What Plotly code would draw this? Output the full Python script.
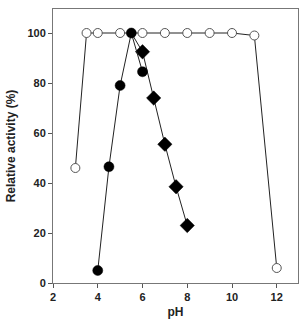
import plotly.graph_objects as go

ph_open = [3, 3.5, 4, 5, 6, 7, 8, 9, 10, 11, 12]
act_open = [46, 100, 100, 100, 100, 100, 100, 100, 100, 99, 6]
ph_fill = [4, 4.5, 5, 5.5, 6]
act_fill = [5, 46.5, 79, 100, 84.5]
ph_diam = [5.5, 6, 6.5, 7, 7.5, 8]
act_diam = [100, 92.5, 74, 55.5, 38.5, 23]

fig = go.Figure()
fig.add_trace(go.Scatter(x=ph_open, y=act_open, mode="lines+markers",
    line=dict(color="#222", width=1),
    marker=dict(symbol="circle", size=9, color="white", line=dict(color="#555", width=1))))
fig.add_trace(go.Scatter(x=ph_diam, y=act_diam, mode="lines+markers",
    line=dict(color="#222", width=1),
    marker=dict(symbol="diamond", size=[0, 11, 11, 11, 11, 11], color="#000000",
                opacity=1, line=dict(color="#000000", width=0.5))))
fig.add_trace(go.Scatter(x=ph_fill, y=act_fill, mode="lines+markers",
    line=dict(color="#222", width=1),
    marker=dict(symbol="circle", size=10, color="#000000", line=dict(color="#000000", width=0.5))))

fig.update_layout(
    width=302, height=320, showlegend=False,
    margin=dict(l=53, r=4, t=9, b=37),
    plot_bgcolor="white", paper_bgcolor="white",
    font=dict(family="Liberation Sans, Arial", color="#222"),
)
fig.update_xaxes(range=[2, 12.95], tickvals=[2, 4, 6, 8, 10, 12],
    showgrid=False, zeroline=False, showline=True, linecolor="#777", linewidth=1, mirror=True,
    ticks="outside", ticklen=4, tickcolor="#555",
    tickfont=dict(size=11, family="Liberation Sans, Arial", weight="bold"),
    title=dict(text="<b>pH</b>", font=dict(size=12), standoff=5))
fig.update_yaxes(range=[0, 109.6], tickvals=[0, 20, 40, 60, 80, 100],
    showgrid=False, zeroline=False, showline=True, linecolor="#777", linewidth=1, mirror=True,
    ticks="outside", ticklen=4, tickcolor="#555",
    tickfont=dict(size=11, family="Liberation Sans, Arial", weight="bold"),
    title=dict(text="<b>Relative activity (%)</b>", font=dict(size=12), standoff=9))

fig.write_html("out.html")
